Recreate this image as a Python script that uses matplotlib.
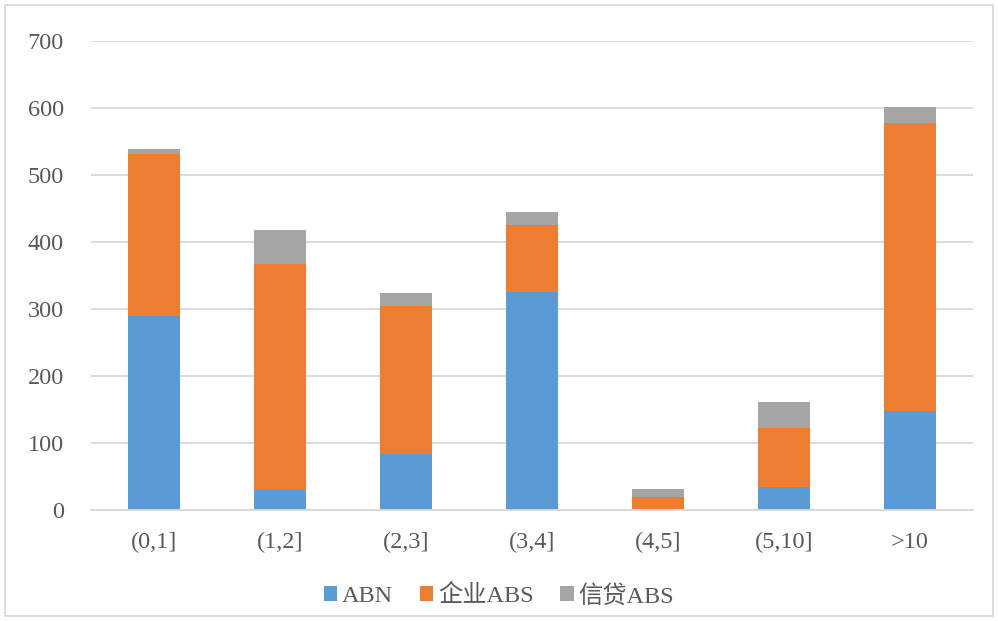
import matplotlib
matplotlib.use("Agg")
import matplotlib.pyplot as plt
from matplotlib.patches import Rectangle
import numpy as np

plt.rcParams['font.family'] = ['Liberation Serif', 'Noto Sans CJK SC']

categories = ["(0,1]", "(1,2]", "(2,3]", "(3,4]", "(4,5]", "(5,10]", ">10"]
abn = [290, 30, 84, 325, 0, 34, 148]
corp_abs = [241, 337, 220, 100, 20, 88, 429]
credit_abs = [8, 51, 20, 20, 11, 39, 24]

colors = ["#5b9bd5", "#ed7d31", "#a5a5a5"]
labels = ["ABN", "企业ABS", "信贷ABS"]

fig = plt.figure(figsize=(9.98, 6.21), dpi=100)
ax = fig.add_axes([91/998, 1 - 510/621, 882/998, 469/621])

x = np.arange(len(categories))
w = 0.41
bottom = np.zeros(len(categories))
for vals, c, lab in zip([abn, corp_abs, credit_abs], colors, labels):
    ax.bar(x, vals, w, bottom=bottom, color=c, label=lab, zorder=3)
    bottom += np.array(vals)

ax.set_xlim(-0.5, len(categories) - 0.5)
ax.set_ylim(0, 700)
ax.set_yticks(range(0, 701, 100))
ax.set_xticks(x)
ax.set_xticklabels(categories)
ax.grid(axis='y', color='#d9d9d9', linewidth=1.3, zorder=0)
for s in ['top', 'right', 'left']:
    ax.spines[s].set_visible(False)
ax.spines['bottom'].set_color('#d9d9d9')
ax.spines['bottom'].set_linewidth(1.3)
ax.spines['bottom'].set_zorder(4)
ax.tick_params(axis='both', length=0, labelsize=17.5, colors='#595959')
ax.tick_params(axis='y', pad=19.5)
ax.tick_params(axis='x', pad=16)

leg = fig.legend(loc='center', bbox_to_anchor=(0.5, 1 - 596/621), ncol=3,
                 frameon=False, fontsize=17.5, handlelength=0.55, handleheight=0.55,
                 handletextpad=0.2, columnspacing=1.1)
for t in leg.get_texts():
    t.set_color('#595959')

fig.patches.append(Rectangle((5/998, 5/621), 988/998, 611/621, transform=fig.transFigure,
                             fill=False, edgecolor='#d9d9d9', linewidth=1.3))

fig.savefig("out.png", dpi=100)
